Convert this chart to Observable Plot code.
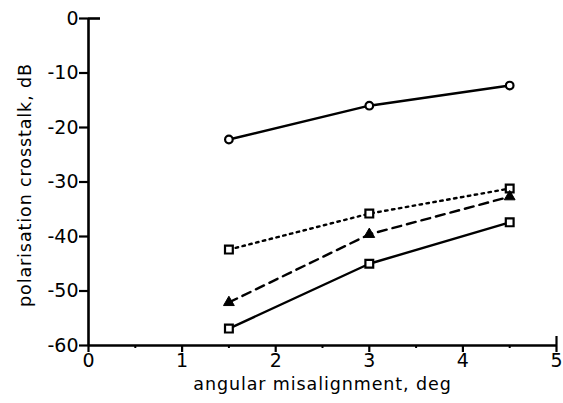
<!DOCTYPE html>
<html>
<head>
<meta charset="utf-8">
<script src="https://cdn.jsdelivr.net/npm/d3@7"></script>
<script src="https://cdn.jsdelivr.net/npm/@observablehq/plot@0.6"></script>
<style>
  html, body { margin: 0; padding: 0; background: #fff; }
  #chart svg g[aria-label="y-axis tick label"],
  #chart svg g[aria-label="x-axis tick label"] { font-size: 19px; }
  #chart svg g[aria-label="text"] { font-size: 17.5px; letter-spacing: 0.9px; }
</style>
</head>
<body>
<div id="chart"></div>
<script>
const misalignment = [1.5, 3, 4.5];
const circleSolid = [-22.2, -16.0, -12.3];
const squareDotted = [-42.4, -35.8, -31.2];
const triangleDashed = [-52.1, -39.6, -32.7];
const squareSolid = [-56.9, -45.0, -37.4];
const xTicks = [0, 1, 2, 3, 4, 5];
const xMinorTicks = [0.5, 1.5, 2.5, 3.5, 4.5];
const yTicks = [0, -10, -20, -30, -40, -50, -60];

const series = [
  {name: "A", values: circleSolid, dash: null, symbol: "circle"},
  {name: "B", values: squareDotted, dash: "2.5,4.5", symbol: "square"},
  {name: "C", values: triangleDashed, dash: "9,6", symbol: "triangle"},
  {name: "D", values: squareSolid, dash: null, symbol: "square"}
];
const rows = series.flatMap(s => s.values.map((v, i) => ({series: s.name, x: misalignment[i], y: v, symbol: s.symbol})));
const pick = (name) => rows.filter(r => r.series === name);
const blank = () => "";
const fmtY = d => d === 0 ? "0" : "-" + Math.abs(d);
const fmtX = d => String(d);

const font = "'DejaVu Sans', sans-serif";

const chart = Plot.plot({
  width: 563,
  height: 403,
  marginLeft: 88,
  marginRight: 7,
  marginTop: 18,
  marginBottom: 58,
  style: {fontFamily: font, fontSize: "17px", color: "#000", background: "#fff"},
  x: {domain: [0, 5]},
  y: {domain: [-60, 0]},
  marks: [
    Plot.axisY({ticks: yTicks, tickSize: 9, tickPadding: 1, tickFormat: fmtY, strokeWidth: 2.2, label: null}),
    Plot.axisY({ticks: [0], tickSize: -12, tickFormat: blank, strokeWidth: 2.6, label: null}),
    Plot.axisX({ticks: xTicks, tickSize: 7, tickPadding: 1, tickFormat: fmtX, strokeWidth: 2.2, label: null}),
    Plot.axisX({ticks: xMinorTicks, tickSize: 3, tickFormat: blank, strokeWidth: 2, label: null}),
    Plot.axisX({ticks: [5], tickSize: -9, tickFormat: blank, strokeWidth: 2.2, label: null}),
    Plot.text(["polarisation crosstalk, dB"], {frameAnchor: "left", dx: -63, dy: 3, rotate: -90, textAnchor: "middle"}),
    Plot.text(["angular misalignment, deg"], {frameAnchor: "bottom", dy: 44}),
    Plot.ruleX([0], {strokeWidth: 2.6}),
    Plot.ruleY([-60], {strokeWidth: 2.6}),
    ...series.map(s => Plot.line(pick(s.name), {x: "x", y: "y", stroke: "#000", strokeWidth: 2.4, strokeDasharray: s.dash})),
    Plot.dot(pick("A"), {x: "x", y: "y", r: 3.8, stroke: "#000", fill: "#fff", strokeWidth: 2.2}),
    Plot.dot(pick("B"), {x: "x", y: "y", symbol: "square", r: 4.4, stroke: "#000", fill: "#fff", strokeWidth: 2.2}),
    Plot.dot(pick("D"), {x: "x", y: "y", symbol: "square", r: 4.4, stroke: "#000", fill: "#fff", strokeWidth: 2.2}),
    Plot.dot(pick("C"), {x: "x", y: "y", symbol: "triangle", r: 4, fill: "#000", stroke: "#000", strokeWidth: 1})
  ]
});
document.getElementById("chart").appendChild(chart);
</script>
</body>
</html>
